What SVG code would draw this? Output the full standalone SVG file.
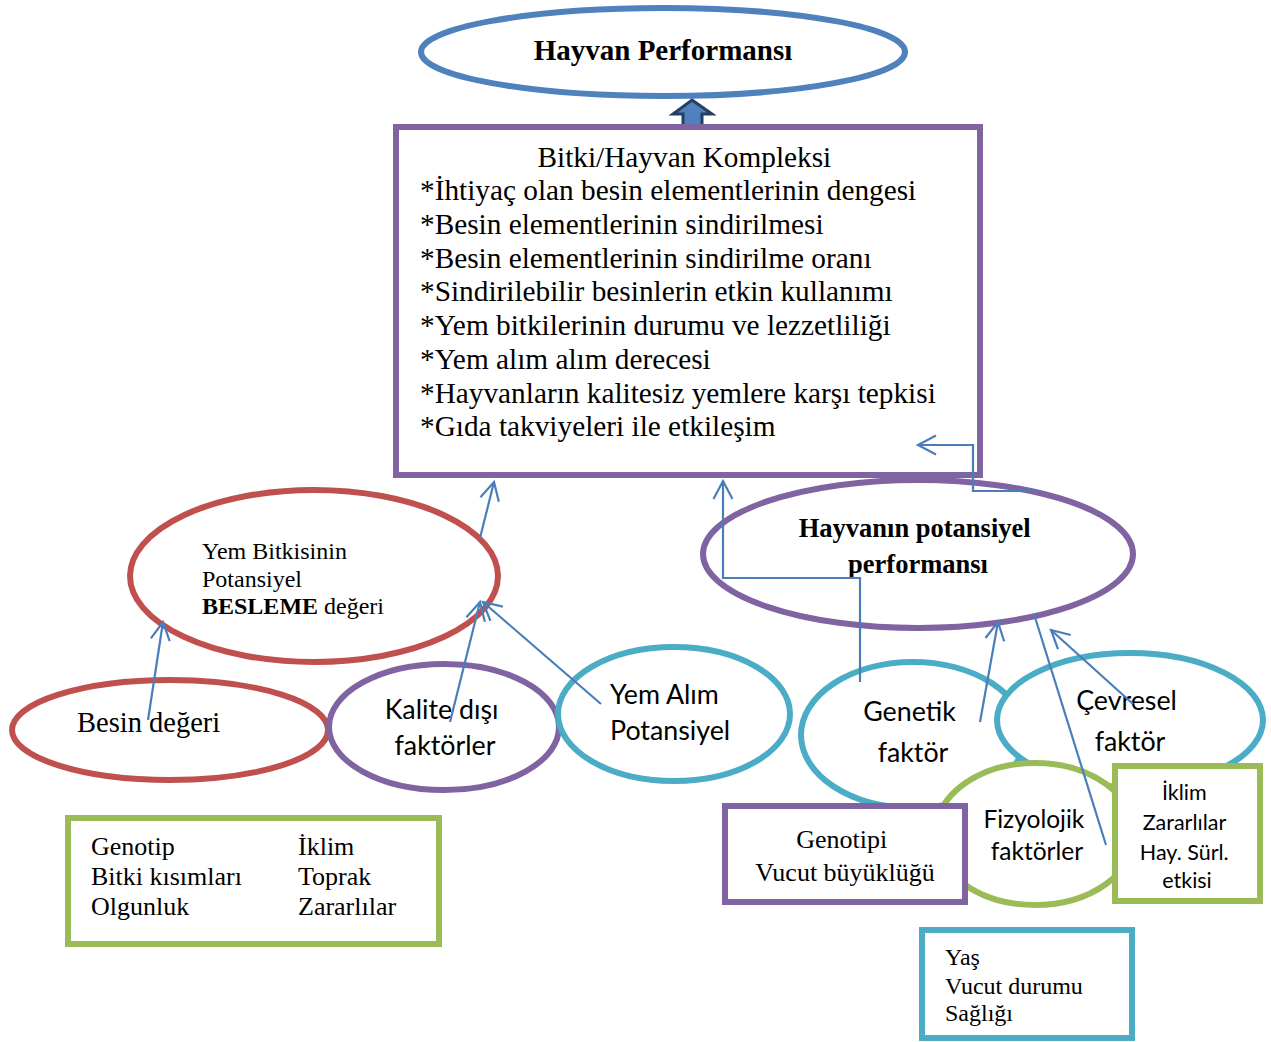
<svg xmlns="http://www.w3.org/2000/svg" width="1271" height="1042" viewBox="0 0 1271 1042">
<defs>
<style>
.serif{font-family:"Liberation Serif","Times New Roman",serif;fill:#000}
.sans{font-family:Lato,"Liberation Sans",sans-serif;fill:#000}
.b{font-weight:bold}
.mid{text-anchor:middle}
.shape{fill:#fff;stroke-width:6}
.red{stroke:#C0504D}
.pur{stroke:#8064A2}
.cyan{stroke:#4BACC6}
.grn{stroke:#9BBB59}
.blu{stroke:#4F81BD}
.conn{fill:none;stroke:#4A7EBB;stroke-width:2.2}
</style>
<marker id="arr" markerUnits="userSpaceOnUse" markerWidth="26" markerHeight="26" viewBox="-22 -13 26 26" refX="0" refY="0" orient="auto">
<path d="M-18,-9.5 L0,0 L-18,9.5" fill="none" stroke="#4A7EBB" stroke-width="2.2"/>
</marker>
</defs>
<rect width="1271" height="1042" fill="#fff"/>

<g id="hayvan-performansi">
<ellipse class="shape blu" cx="663" cy="52" rx="242" ry="44"/>
<text class="serif b mid" x="663" y="60" font-size="29">Hayvan Performansı</text>
</g>

<g id="block-arrow">
<polygon points="692,100 712,114 702,114 702,128 683,128 683,114 673,114" fill="#4F81BD" stroke="#243F60" stroke-width="3"/>
</g>

<g id="kompleks">
<rect class="shape pur" x="396" y="127" width="584" height="348"/>
<text class="serif" font-size="29.3">
<tspan x="688" y="167" text-anchor="middle">Bitki/Hayvan Kompleksi</tspan>
<tspan x="420" y="200">*İhtiyaç olan besin elementlerinin dengesi</tspan>
<tspan x="420" y="234">*Besin elementlerinin sindirilmesi</tspan>
<tspan x="420" y="268">*Besin elementlerinin sindirilme oranı</tspan>
<tspan x="420" y="301">*Sindirilebilir besinlerin etkin kullanımı</tspan>
<tspan x="420" y="335">*Yem bitkilerinin durumu ve lezzetliliği</tspan>
<tspan x="420" y="369">*Yem alım alım derecesi</tspan>
<tspan x="420" y="403">*Hayvanların kalitesiz yemlere karşı tepkisi</tspan>
<tspan x="420" y="436">*Gıda takviyeleri ile etkileşim</tspan>
</text>
</g>

<g id="yem-bitkisinin">
<ellipse class="shape red" cx="314" cy="576" rx="184" ry="86"/>
<text class="serif" font-size="24">
<tspan x="202" y="559">Yem Bitkisinin</tspan>
<tspan x="202" y="587">Potansiyel</tspan>
<tspan x="202" y="614"><tspan font-weight="bold">BESLEME</tspan> değeri</tspan>
</text>
</g>

<g id="hayvanin-potansiyel">
<ellipse class="shape pur" cx="918" cy="554" rx="215" ry="74"/>
<text class="serif b mid" font-size="26.5">
<tspan x="918" y="537">Hayvanın potansiyel</tspan>
<tspan x="918" y="573">performansı</tspan>
</text>
</g>

<g id="besin-degeri">
<ellipse class="shape red" cx="170" cy="730" rx="158" ry="50"/>
<text class="serif" x="77" y="732" font-size="28.5">Besin değeri</text>
</g>

<g id="kalite-disi">
<ellipse class="shape pur" cx="444" cy="727" rx="115" ry="63"/>
<text class="sans mid" font-size="26.8">
<tspan x="445" y="719">Kalite dışı</tspan>
<tspan x="445" y="755">faktörler</tspan>
</text>
</g>

<g id="yem-alim">
<ellipse class="shape cyan" cx="674" cy="714" rx="116" ry="67"/>
<text class="sans" font-size="26.8">
<tspan x="610" y="704">Yem Alım</tspan>
<tspan x="610" y="740">Potansiyel</tspan>
</text>
</g>

<g id="genetik">
<ellipse class="shape cyan" cx="913" cy="735" rx="112" ry="73"/>
<text class="sans mid" font-size="26.8">
<tspan x="913" y="721">Genetik</tspan>
<tspan x="913" y="762">faktör</tspan>
</text>
</g>

<g id="cevresel">
<ellipse class="shape cyan" cx="1130" cy="720" rx="133" ry="67"/>
<text class="sans mid" font-size="26.8">
<tspan x="1130" y="710">Çevresel</tspan>
<tspan x="1130" y="751">faktör</tspan>
</text>
</g>

<g id="fizyolojik">
<ellipse class="shape grn" cx="1035" cy="834" rx="100" ry="71"/>
<text class="sans mid" font-size="24.5">
<tspan x="1037" y="828">Fizyolojik</tspan>
<tspan x="1037" y="860">faktörler</tspan>
</text>
</g>

<g id="genotipi">
<rect class="shape pur" x="725" y="806" width="240" height="96"/>
<text class="serif mid" font-size="26">
<tspan x="845" y="848">Genotipi</tspan>
<tspan x="845" y="881">Vucut büyüklüğü</tspan>
</text>
</g>

<g id="iklim-kutusu">
<rect class="shape grn" x="1115" y="766" width="145" height="135"/>
<text class="sans mid" font-size="21.5">
<tspan x="1187" y="800">İklim</tspan>
<tspan x="1187" y="830">Zararlılar</tspan>
<tspan x="1187" y="860">Hay. Sürl.</tspan>
<tspan x="1187" y="888">etkisi</tspan>
</text>
</g>

<g id="yas-kutusu">
<rect class="shape cyan" x="922" y="930" width="210" height="108"/>
<text class="serif" font-size="24">
<tspan x="945" y="965">Yaş</tspan>
<tspan x="945" y="994">Vucut durumu</tspan>
<tspan x="945" y="1021">Sağlığı</tspan>
</text>
</g>

<g id="genotip-kutusu">
<rect class="shape grn" x="68" y="818" width="371" height="126"/>
<text class="serif" font-size="26">
<tspan x="91" y="855">Genotip</tspan>
<tspan x="91" y="885">Bitki kısımları</tspan>
<tspan x="91" y="915">Olgunluk</tspan>
<tspan x="298" y="855">İklim</tspan>
<tspan x="298" y="885">Toprak</tspan>
<tspan x="298" y="915">Zararlılar</tspan>
</text>
</g>

<g id="connectors">
<line class="conn" x1="480" y1="538" x2="494" y2="482" marker-end="url(#arr)"/>
<line class="conn" x1="148" y1="720" x2="163" y2="622" marker-end="url(#arr)"/>
<line class="conn" x1="450" y1="722" x2="480" y2="602" marker-end="url(#arr)"/>
<line class="conn" x1="601" y1="704" x2="483" y2="602" marker-end="url(#arr)"/>
<polyline class="conn" points="860,682 860,578 723,578 723,481" marker-end="url(#arr)"/>
<polyline class="conn" points="1035,491 973,491 973,445 918,445" marker-end="url(#arr)"/>
<line class="conn" x1="980" y1="722" x2="998" y2="622" marker-end="url(#arr)"/>
<line class="conn" x1="1133" y1="704" x2="1051" y2="630" marker-end="url(#arr)"/>
<line class="conn" x1="1034" y1="614" x2="1106" y2="845"/>
</g>
</svg>
